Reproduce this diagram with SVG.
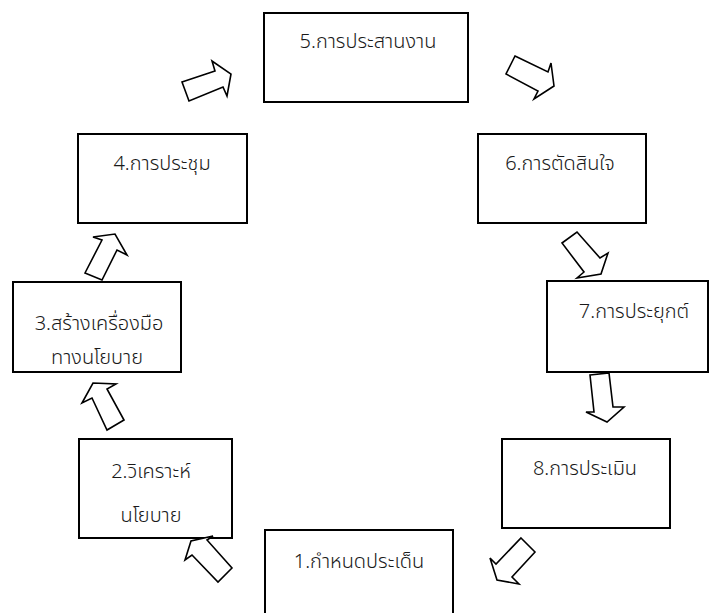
<svg xmlns="http://www.w3.org/2000/svg" width="710" height="613" viewBox="0 0 710 613">
  <style>
    .box { fill: #ffffff; stroke: #000000; stroke-width: 2; }
    .arrow { fill: #ffffff; stroke: #000000; stroke-width: 1.6; stroke-linejoin: miter; }
    .label { font-family: "Noto Sans Thai", "Noto Sans", "DejaVu Sans", "Liberation Sans", sans-serif; font-size: 20px; font-weight: 300; fill: #1a1a1a; text-anchor: middle; }
  </style>
  <rect width="710" height="613" fill="#ffffff"/>

  <!-- policy cycle steps -->
  <g id="step1">
    <rect class="box" x="265" y="530" width="188" height="95"/>
    <text class="label" x="359" y="568">1.กำหนดประเด็น</text>
  </g>
  <g id="step2">
    <rect class="box" x="79" y="439" width="153" height="99"/>
    <text class="label" x="151" y="478">2.วิเคราะห์</text>
    <text class="label" x="151" y="522">นโยบาย</text>
  </g>
  <g id="step3">
    <rect class="box" x="13" y="282" width="168" height="90"/>
    <text class="label" x="99" y="330">3.สร้างเครื่องมือ</text>
    <text class="label" x="97" y="364">ทางนโยบาย</text>
  </g>
  <g id="step4">
    <rect class="box" x="78" y="134" width="169" height="89"/>
    <text class="label" x="162" y="170">4.การประชุม</text>
  </g>
  <g id="step5">
    <rect class="box" x="264" y="13" width="204" height="89"/>
    <text class="label" x="368" y="48">5.การประสานงาน</text>
  </g>
  <g id="step6">
    <rect class="box" x="478" y="134" width="168" height="89"/>
    <text class="label" x="560" y="170">6.การตัดสินใจ</text>
  </g>
  <g id="step7">
    <rect class="box" x="547" y="281" width="161" height="91"/>
    <text class="label" x="634" y="318">7.การประยุกต์</text>
  </g>
  <g id="step8">
    <rect class="box" x="502" y="439" width="168" height="89"/>
    <text class="label" x="585" y="475">8.การประเมิน</text>
  </g>

  <!-- block arrows between steps -->
  <g id="connectors">
    <polygon class="arrow" points="189,101 182,82 215,71 212,61 231,74 227,96 223,87"/>
    <polygon class="arrow" points="515,56 548,72 551,63 554,86 534,99 538,91 506,74"/>
    <polygon class="arrow" points="562,243 577,232 600,258 608,253 601,274 577,278 584,272"/>
    <polygon class="arrow" points="590,375 609,373 613,407 624,407 607,422 586,412 594,412"/>
    <polygon class="arrow" points="521,538 535,552 512,577 519,584 497,580 490,558 496,564"/>
    <polygon class="arrow" points="232,568 218,582 192,555 185,560 191,541 213,536 207,540"/>
    <polygon class="arrow" points="124,420 107,430 92,398 82,403 93,383 116,384 107,389"/>
    <polygon class="arrow" points="85,273 102,280 117,250 127,255 115,234 93,237 102,240"/>
  </g>
</svg>
